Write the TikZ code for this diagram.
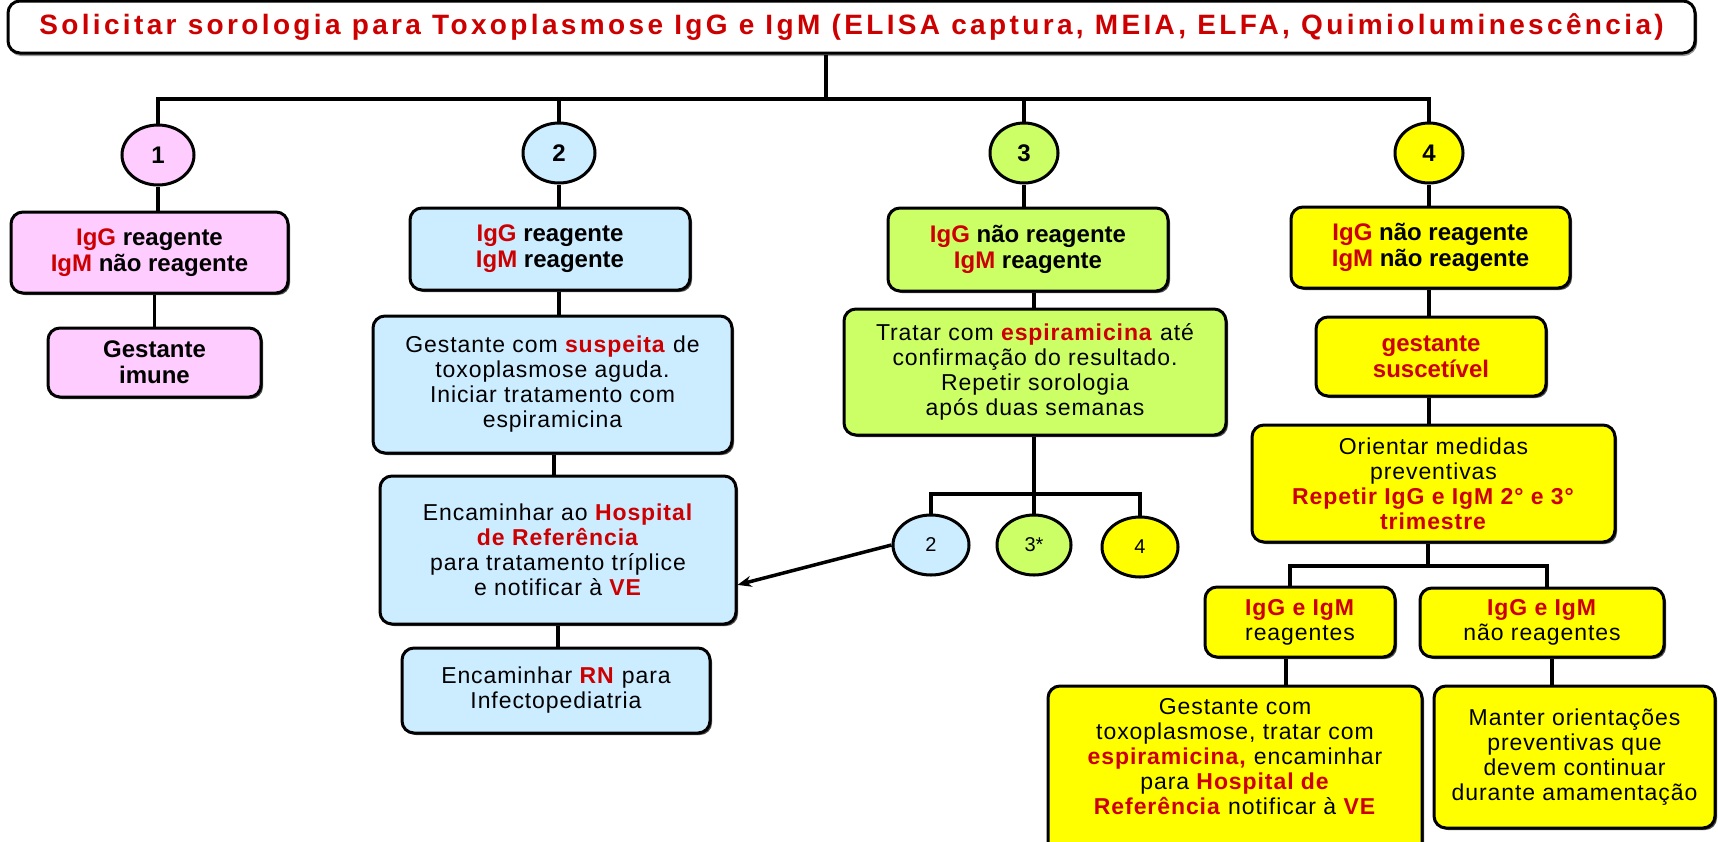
\documentclass[tikz,border=0pt]{standalone}
\usepackage{fontspec}
\setmainfont{Liberation Sans}
\newfontfamily\largo{Liberation Sans}[LetterSpace=4]
\newfontfamily\largotit{Liberation Sans}[LetterSpace=12]
\usetikzlibrary{arrows.meta,shapes.geometric,shadows}

\definecolor{rosa}{HTML}{FFCCFF}
\definecolor{azul}{HTML}{CCECFF}
\definecolor{verde}{HTML}{CCFF66}
\definecolor{amarelo}{HTML}{FFFF00}
\definecolor{vermelho}{HTML}{CC0000}

\newcommand{\vm}[1]{\textcolor{vermelho}{\textbf{#1}}}
\newcommand{\texto}{\largo\fontsize{23}{25}\selectfont}
\newcommand{\rotulo}{\fontsize{24}{26}\selectfont\bfseries}
\newcommand{\titulo}{\largotit\fontsize{28}{30}\selectfont\bfseries}

\tikzset{
  caixa/.style={draw, line width=3pt, rounded corners=12pt, align=center, inner sep=0pt, font=\texto,
    drop shadow={shadow xshift=2pt, shadow yshift=-2pt, fill=black, opacity=.7}},
  tam/.style 2 args={minimum width=#1pt, minimum height=#2pt},
  bola/.style={draw, ellipse, line width=3pt, inner sep=0pt, minimum width=72pt, minimum height=60pt, font=\rotulo},
  bolinha/.style={bola, minimum width=76pt, font=\fontsize{20}{22}\selectfont},
  liga/.style={line width=3.5pt},
  seta/.style={line width=3.5pt, -{Stealth[length=14pt, width=11pt]}}
}

\begin{document}
\begin{tikzpicture}[x=1pt,y=-1pt]
    \useasboundingbox (0,0) rectangle (1718,841);

    % Titolo
    \node[caixa, fill=white, tam={1687}{52}, font=\titulo, drop shadow={shadow xshift=1pt, shadow yshift=-3pt, fill=black!40, opacity=1}] (titulo) at (851.5,27)
        {\textcolor{vermelho}{Solicitar sorologia para Toxoplasmose IgG e IgM (ELISA captura, MEIA, ELFA, Quimioluminescência)}};

    % Barramento principale
    \coordinate (bus) at (826,99);
    \draw[liga] (titulo.south -| bus) -- (bus);

    % Casi 1-4
    \node[bola, fill=rosa] (c1) at (158,155) {1};
    \node[bola, fill=azul] (c2) at (559,153) {2};
    \node[bola, fill=verde, minimum width=68pt] (c3) at (1024,153) {3};
    \node[bola, fill=amarelo, minimum width=68pt] (c4) at (1429,153) {4};

    \draw[liga] (c1.north) |- (bus) -| (c4.north);
    \draw[liga] (c2.north) -- (c2.north |- bus);
    \draw[liga] (c3.north) -- (c3.north |- bus);

    % Colonna 1
    \node[caixa, fill=rosa, tam={277}{81}, font=\rotulo] (r1) at (149.5,252.5) {\vm{IgG} reagente\\ \vm{IgM} não reagente};
    \node[caixa, fill=rosa, tam={213}{69}, font=\rotulo] (i1) at (154.5,362.5) {Gestante\\ imune};

    \draw[liga] (c1.south) -- (c1.south |- r1.north);
    \draw[liga] (i1.north) -- (i1.north |- r1.south);

    % Colonna 2
    \node[caixa, fill=azul, tam={280}{82}, font=\rotulo] (r2) at (550,249) {\vm{IgG} reagente\\ \vm{IgM} reagente};
    \node[caixa, fill=azul, tam={359}{137}] (s2) at (552.5,384.5)
        {Gestante com \vm{suspeita} de\\ toxoplasmose aguda.\\ Iniciar tratamento com\\ espiramicina};
    \node[caixa, fill=azul, tam={356}{148}] (h2) at (558,550)
        {Encaminhar ao \vm{Hospital}\\ \vm{de Referência}\\ para tratamento tríplice\\ e notificar à \vm{VE}};
    \node[caixa, fill=azul, tam={308}{85}] (n2) at (556,690.5) {Encaminhar \vm{RN} para\\ Infectopediatria};

    \draw[liga] (c2.south) -- (c2.south |- r2.north);
    \draw[liga] (s2.north -| c2) -- (r2.south -| c2);
    \draw[liga] (s2.south -| 554,0) -- (h2.north -| 554,0);
    \draw[liga] (h2.south) -- (h2.south |- n2.north);

    % Colonna 3
    \node[caixa, fill=verde, tam={280}{83}, font=\rotulo] (r3) at (1028,249.5) {\vm{IgG} não reagente\\ \vm{IgM} reagente};
    \node[caixa, fill=verde, tam={382}{126}] (t3) at (1035,372)
        {Tratar com \vm{espiramicina} até\\ confirmação do resultado.\\ Repetir sorologia\\ após duas semanas};

    \node[bolinha, fill=azul] (p2) at (931,545) {2};
    \node[bolinha, fill=verde, minimum width=74pt] (p3) at (1034,545) {3*};
    \node[bolinha, fill=amarelo] (p4) at (1140,547) {4};

    \draw[liga] (c3.south) -- (c3.south |- r3.north);
    \draw[liga] (r3.south -| p3) -- (t3.north -| p3);
    \coordinate (bus3) at (1034,494);
    \draw[liga] (t3.south -| p3) -- (p3.north);
    \draw[liga] (p2.north) |- (bus3) -| (p4.north);

    % Freccia verso il Hospital
    \draw[seta] (p2.west) -- (h2.-11);

    % Colonna 4
    \node[caixa, fill=amarelo, tam={279}{81}, font=\rotulo] (r4) at (1430.5,247.5) {\vm{IgG} não reagente\\ \vm{IgM} não reagente};
    \node[caixa, fill=amarelo, tam={230}{79}, font=\rotulo] (g4) at (1431,356.5) {\vm{gestante}\\ \vm{suscetível}};
    \node[caixa, fill=amarelo, tam={363}{117}] (o4) at (1433.5,483.5)
        {Orientar medidas\\ preventivas\\ \vm{Repetir IgG e IgM 2° e 3°}\\ \vm{trimestre}};
    \node[caixa, fill=amarelo, tam={190}{70}] (a4) at (1300,622) {\vm{IgG e IgM}\\ reagentes};
    \node[caixa, fill=amarelo, tam={244}{69}] (b4) at (1542,622.5) {\vm{IgG e IgM}\\ não reagentes};
    \node[caixa, fill=amarelo, tam={374}{180}] (e4) at (1235,776)
        {Gestante com\\ toxoplasmose, tratar com\\ \vm{espiramicina,} encaminhar\\ para \vm{Hospital de}\\ \vm{Referência} notificar à \vm{VE}\\[14pt]};
    \node[caixa, fill=amarelo, tam={281}{142}] (m4) at (1574.5,757)
        {Manter orientações\\ preventivas que\\ devem continuar\\ durante amamentação};

    \draw[liga] (c4.south) -- (c4.south |- r4.north);
    \draw[liga] (r4.south -| c4) -- (g4.north -| c4);
    \draw[liga] (g4.south -| c4) -- (o4.north -| c4);
    \coordinate (bus4) at (1428,566);
    \draw[liga] (o4.south -| bus4) -- (bus4);
    \draw[liga] (a4.north -| 1290,0) |- (bus4) -| (b4.north -| 1547,0);
    \draw[liga] (e4.north -| 1286,0) -- (a4.south -| 1286,0);
    \draw[liga] (m4.north -| 1552,0) -- (b4.south -| 1552,0);

\end{tikzpicture}
\end{document}
